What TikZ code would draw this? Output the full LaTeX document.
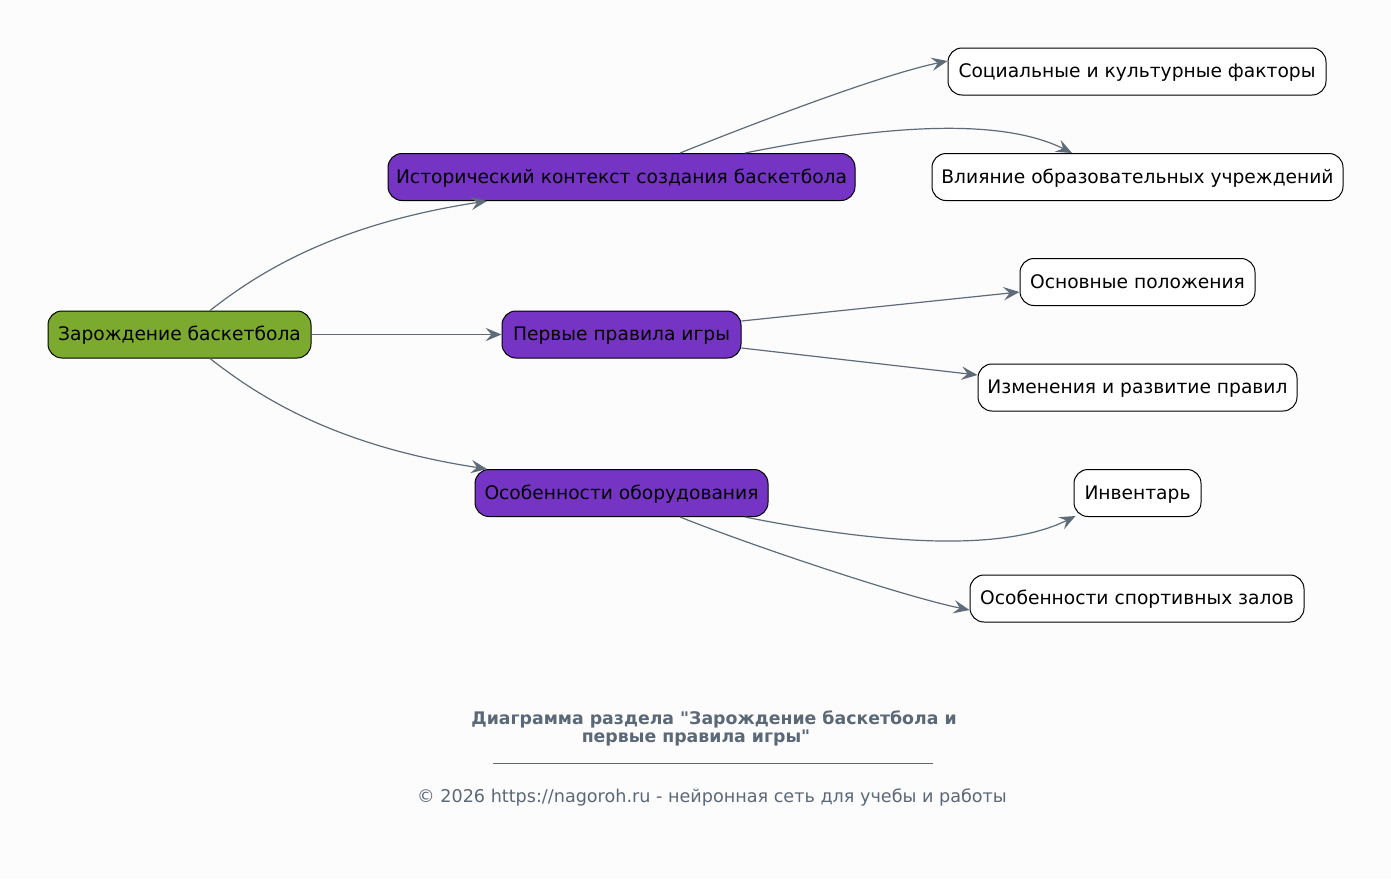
\documentclass[tikz,border=0pt]{standalone}
\usepackage{fontspec}
\setmainfont{DejaVu Sans}[Ligatures=TeXOff]
\usetikzlibrary{arrows.meta}
\definecolor{bg}{HTML}{FCFCFC}
\definecolor{rootc}{HTML}{7BAA2E}
\definecolor{midc}{HTML}{7634C4}
\definecolor{edgec}{HTML}{5E6C7A}
\definecolor{footc}{HTML}{5A6878}
\tikzset{
  box/.style={draw=black, line width=0.75pt, rounded corners=10.5pt,
    minimum height=35.25pt, inner xsep=4pt, inner ysep=2pt, text height=11.5pt, text depth=2pt,
    font=\fontsize{14pt}{16pt}\selectfont, text=black},
  rootbox/.style={box, fill=rootc},
  midbox/.style={box, fill=midc},
  leafbox/.style={box, fill=white},
  conn/.style={draw=edgec, line width=0.9pt, -{Stealth[length=12pt,width=10pt,inset=4.5pt]}},
}
\begin{document}
\begin{tikzpicture}[x=0.75pt,y=-0.75pt]
\fill[bg] (0,0) rectangle (1391,879);
\useasboundingbox (0,0) rectangle (1391,879);

\node[rootbox, minimum width=197.25pt] (root) at (179.5,334.5) {Зарождение баскетбола};
\node[midbox, minimum width=350.25pt] (hist) at (621.5,177) {Исторический контекст создания баскетбола};
\node[midbox, minimum width=179.25pt] (rules) at (621.5,334.5) {Первые правила игры};
\node[midbox, minimum width=219.75pt] (equip) at (621.5,493) {Особенности оборудования};

\node[leafbox, minimum width=283.5pt] (soc) at (1137,71.5) {Социальные и культурные факторы};
\node[leafbox, minimum width=308.25pt] (vliy) at (1137.5,177) {Влияние образовательных учреждений};
\node[leafbox, minimum width=176.25pt] (osn) at (1137.5,282) {Основные положения};
\node[leafbox, minimum width=239.25pt] (izm) at (1137.5,387.5) {Изменения и развитие правил};
\node[leafbox, minimum width=95.25pt] (inv) at (1137.5,493) {Инвентарь};
\node[leafbox, minimum width=250.5pt] (zal) at (1137,598.5) {Особенности спортивных залов};

% edges
\draw[conn] ([xshift=22.875pt]root.north) .. controls +(45,-35) and +(-157,24) .. ([xshift=-100.875pt]hist.south);
\draw[conn] (root.east) -- (rules.west);
\draw[conn] ([xshift=22.875pt]root.south) .. controls +(45,35) and +(-157,-24) .. ([xshift=-100.875pt]equip.north);

\draw[conn] ([xshift=43.875pt]hist.north) .. controls +(70,-28) and +(-68,14) .. ([yshift=7.875pt]soc.west);
\draw[conn] ([xshift=92.625pt]hist.north) .. controls +(105,-21) and +(-82,-41) .. ([xshift=-49.125pt]vliy.north);

\draw[conn] ([yshift=10.125pt]rules.east) -- ([yshift=-7.5pt]osn.west);
\draw[conn] ([yshift=-10.125pt]rules.east) -- ([yshift=9.375pt]izm.west);

\draw[conn] ([xshift=92.625pt]equip.south) .. controls +(105,21) and +(-82,41) .. ([xshift=1.5pt,yshift=0.75pt]inv.south west);
\draw[conn] ([xshift=43.875pt]equip.south) .. controls +(70,28) and +(-68,-14) .. ([yshift=-8.625pt]zal.west);

% footer
\node[font=\fontsize{13pt}{13.5pt}\selectfont\bfseries, text=footc, align=center] (title) at (714,728)
  {Диаграмма раздела "Зарождение баскетбола и\\первые правила игры"\hspace*{27pt}};
\coordinate (lineL) at (493,763);
\coordinate (lineR) at (933,763);
\draw[footc, line width=0.75pt] (lineL) -- (lineR);
\node[font=\fontsize{13.2pt}{14pt}\selectfont, text=footc] (copy) at (712,797)
  {© 2026 https://nagoroh.ru - нейронная сеть для учебы и работы};
\end{tikzpicture}
\end{document}
